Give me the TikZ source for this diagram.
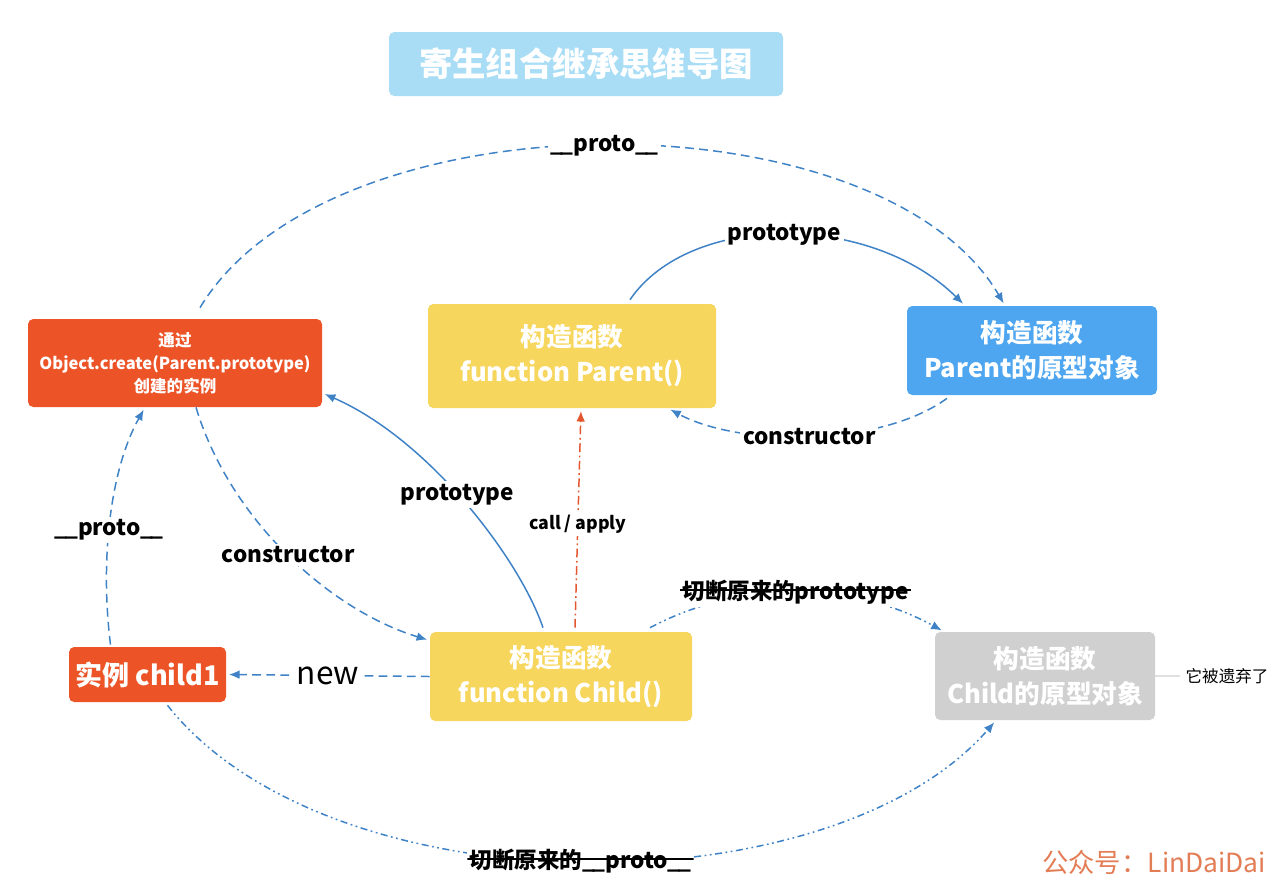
\documentclass[tikz,border=0pt]{standalone}
\usepackage{fontspec}
\setmainfont{Noto Sans CJK SC}
\usetikzlibrary{arrows.meta}

\definecolor{linkblue}{HTML}{3F82C6}
\definecolor{callred}{HTML}{E4572E}
\definecolor{tangerine}{HTML}{EC5428}
\definecolor{butter}{HTML}{F7D65D}
\definecolor{skyblue}{HTML}{4DA6EF}
\definecolor{paleblue}{HTML}{A9DDF5}
\definecolor{ashgrey}{HTML}{D0D0D0}
\definecolor{markorange}{HTML}{E37D55}

\begin{document}
\begin{tikzpicture}[x=0.02cm, y=-0.02cm,
  box/.style={rounded corners=3pt, text=white, align=center, inner sep=0pt},
  link/.style={draw=linkblue, line width=0.85pt, shorten >=1.5pt, -{Latex[length=6pt,width=5pt]}},
  dashlink/.style={link, dash pattern=on 5pt off 3pt},
  dotlink/.style={link, dash pattern=on 4pt off 2pt on 1pt off 2pt on 1pt off 2pt},
  lab/.style={fill=white, inner sep=1.5pt, font=\labfont},
  struck/.style={lab, path picture={\draw[-, solid, black, line width=1pt, shorten >=0pt]
    ([yshift=1.5pt]path picture bounding box.west) -- ([yshift=1.5pt]path picture bounding box.east);}}
]

% GLOBAL SETTINGS
\newcommand{\labfont}{\fontsize{12.8}{15}\selectfont\bfseries}
\newcommand{\boxfont}{\fontsize{14.6}{19.8}\selectfont\bfseries}
\newcommand{\smallfont}{\fontsize{9.4}{13}\selectfont\bfseries}
\newcommand{\uu}{\_\kern-0.12em\_}
\newlength{\unitpx}
\setlength{\unitpx}{0.02cm}

\useasboundingbox (0,0) rectangle (1280,893);

% TITLE
\node[box, fill=paleblue, minimum width=394\unitpx, minimum height=64\unitpx,
  font=\fontsize{19}{22}\selectfont\bfseries] (title) at (586,64) {寄生组合继承思维导图};

% BOXES
\node[box, fill=tangerine, minimum width=294\unitpx, minimum height=88\unitpx, font=\smallfont]
  (objcreate) at (175,363) {通过\\Object.create(Parent.prototype)\\创建的实例};
\node[box, fill=butter, minimum width=288\unitpx, minimum height=104\unitpx, font=\boxfont]
  (parent) at (572,356) {构造函数\\function Parent()};
\node[box, fill=skyblue, minimum width=250\unitpx, minimum height=89\unitpx, font=\boxfont]
  (pproto) at (1032,350.5) {构造函数\\Parent的原型对象};
\node[box, fill=tangerine, minimum width=157\unitpx, minimum height=55\unitpx,
  font=\fontsize{15.4}{18}\selectfont\bfseries] (child1) at (147.5,674.5) {实例 child1};
\node[box, fill=butter, minimum width=262\unitpx, minimum height=89\unitpx, font=\boxfont]
  (child) at (561,676.5) {构造函数\\function Child()};
\node[box, fill=ashgrey, minimum width=220\unitpx, minimum height=88\unitpx, font=\boxfont]
  (cproto) at (1045,676) {构造函数\\Child的原型对象};

% NOTES
\node[font=\fontsize{9.4}{11}\selectfont] (note) at (1227,676) {它被遗弃了};
\draw[draw=black!12, line width=0.6pt] (cproto.east) -- (note.west);
\node[text=markorange, font=\fontsize{15}{17}\selectfont] (mark) at (1154,862) {公众号：LinDaiDai};

% EDGES
\draw[dashlink] ([xshift=25\unitpx,yshift=11\unitpx]objcreate.north)
  .. controls (330,92) and (880,92) .. ([xshift=-27\unitpx]pproto.north)
  node[lab, pos=0.5] {\uu proto\uu};
\draw[link] ([xshift=58\unitpx,yshift=4\unitpx]parent.north)
  .. controls (690,212) and (870,212) .. ([xshift=-67\unitpx]pproto.north)
  node[lab, pos=0.5] {prototype};
\draw[dashlink] ([xshift=-85\unitpx,yshift=-3\unitpx]pproto.south)
  .. controls (880,447) and (740,447) .. ([xshift=96\unitpx]parent.south)
  node[lab, pos=0.5] {constructor};
\draw[link] ([xshift=-18\unitpx,yshift=4\unitpx]child.north)
  .. controls (520,560) and (430,440) .. ([yshift=-30\unitpx]objcreate.east)
  node[lab, pos=0.53] {prototype};
\draw[link, draw=callred, dash pattern=on 5pt off 2pt on 1pt off 2pt]
  ([xshift=14\unitpx,yshift=4\unitpx]child.north) -- ([xshift=9\unitpx]parent.south)
  node[lab, pos=0.47, font=\fontsize{10.1}{12}\selectfont\bfseries] {call / apply};
\draw[dashlink] ([xshift=21\unitpx]objcreate.south)
  .. controls (230,520) and (330,610) .. ([yshift=36\unitpx]child.west)
  node[lab, pos=0.5] {constructor};
\draw[dashlink] ([xshift=-37\unitpx,yshift=2\unitpx]child1.north)
  .. controls (100,560) and (110,470) .. ([xshift=-30\unitpx]objcreate.south)
  node[lab, pos=0.45] {\uu proto\uu};
\draw[dashlink] (child.west) -- (child1.east)
  node[lab, pos=0.5, font=\fontsize{18}{20}\selectfont] {new};
\draw[dotlink] ([xshift=89\unitpx,yshift=4\unitpx]child.north)
  .. controls (740,580) and (850,580) .. ([xshift=-101\unitpx]cproto.north)
  node[struck, pos=0.5] {切断原来的prototype};
\draw[dotlink] ([xshift=20\unitpx,yshift=-3\unitpx]child1.south)
  .. controls (330,911) and (830,911) .. ([xshift=-49\unitpx]cproto.south)
  node[struck, pos=0.5] {切断原来的\uu proto\uu};

\end{tikzpicture}
\end{document}
